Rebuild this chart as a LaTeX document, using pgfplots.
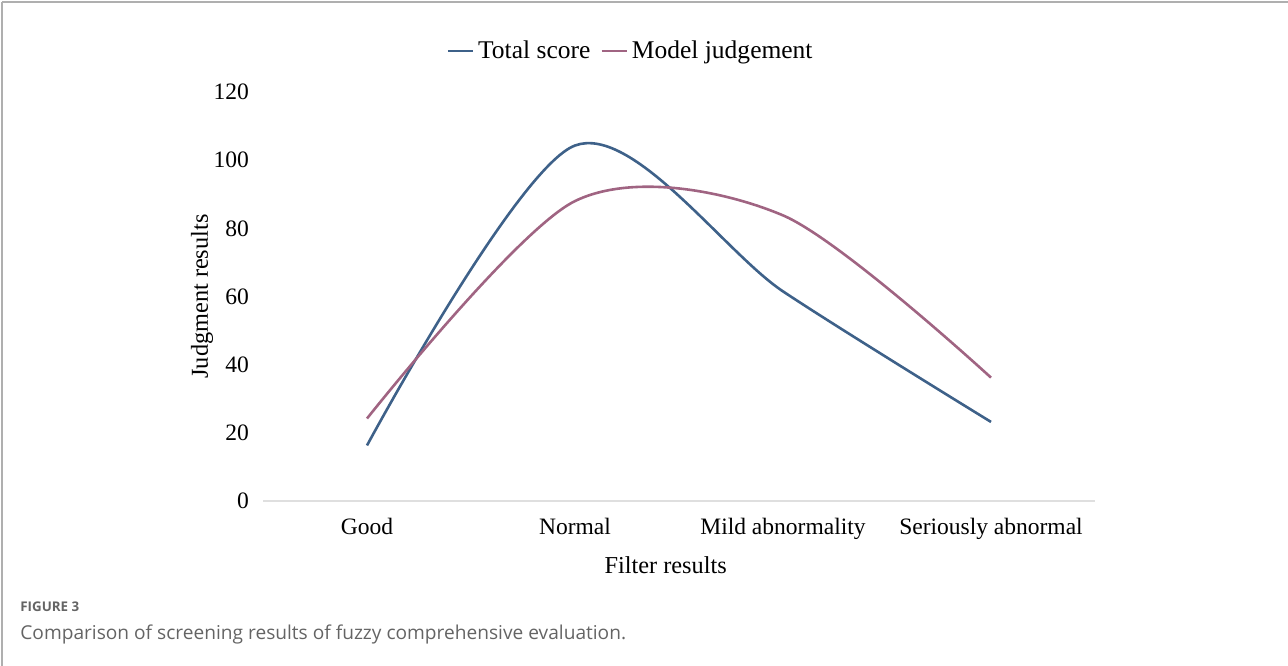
\documentclass[border=0pt]{standalone}
\usepackage{pgfplots}
\pgfplotsset{compat=1.18}
\usepackage{fontspec}
\setmainfont{Liberation Serif}
\newfontfamily\capfont{Open Sans}
\definecolor{tsblue}{RGB}{62,97,137}
\definecolor{mjpink}{RGB}{160,100,130}
\definecolor{framegray}{RGB}{175,175,175}
\definecolor{capgray}{RGB}{100,100,100}
\begin{document}
\begin{tikzpicture}
\path[use as bounding box] (0,0) rectangle (644bp,-333bp);
\draw[framegray, line width=0.9bp] (1bp,-1bp) -- (1bp,-333bp);
\draw[framegray, line width=0.9bp] (1bp,-1bp) -- (644bp,-1bp);
\begin{axis}[
  at={(131.5bp,-250.5bp)}, anchor=south west,
  scale only axis, width=416bp, height=204.5bp,
  xmin=-0.5, xmax=3.5, ymin=0, ymax=120,
  xtick={0,1,2,3},
  xticklabels={Good,Normal,Mild abnormality,Seriously abnormal},
  ytick={0,20,...,120},
  /pgf/number format/assume math mode=true,
  major tick length=0pt,
  axis x line*=bottom, axis y line*=left,
  x axis line style={draw=gray!25, line width=0.6bp, -},
  y axis line style={draw=none},
  tick label style={font=\fontsize{11.8}{13}\selectfont},
  yticklabel style={anchor=east, xshift=-3.5bp},
  xticklabel style={anchor=north, yshift=-5bp},
  xlabel={Filter results},
  ylabel={Judgment results},
  label style={font=\fontsize{12.2}{14}\selectfont},
  xlabel style={at={(axis description cs:0.484,-0.156)}, anchor=center},
  ylabel style={at={(axis description cs:-0.0733,0.5)}, anchor=center},
  legend columns=2,
  legend style={at={(axis description cs:0.443,1.100)}, anchor=center,
    draw=none, fill=none, font=\fontsize{12.8}{14}\selectfont,
    /tikz/every even column/.append style={column sep=3bp}},
  legend image code/.code={\draw[#1] (0bp,0bp) -- (12.5bp,0bp);},
  clip=false,
]
\addplot[tsblue, line width=1.3bp, smooth, tension=0.5] coordinates {(0,16.3) (1,104.3) (2,61.5) (3,23.2)};
\addlegendentry{Total score}
\addplot[mjpink, line width=1.3bp, smooth, tension=0.5] coordinates {(0,24.2) (1,88) (2,83.8) (3,36.2)};
\addlegendentry{Model judgement}
\end{axis}
\node[anchor=base west, inner sep=0, text=capgray, font=\capfont\fontsize{6.7}{8}\selectfont\bfseries] at (10bp,-305.5bp) {FIGURE 3};
\node[anchor=base west, inner sep=0, text=capgray, font=\capfont\fontsize{9.6}{11}\selectfont] at (10bp,-319.5bp) {Comparison of screening results of fuzzy comprehensive evaluation.};
\end{tikzpicture}
\end{document}
